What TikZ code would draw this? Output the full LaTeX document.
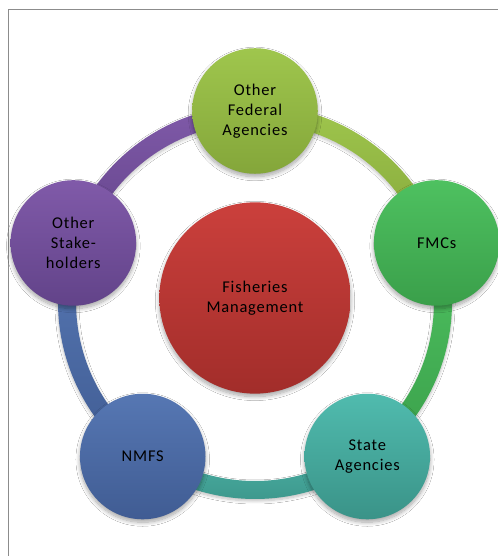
\documentclass[tikz,border=0pt]{standalone}
\usepackage{fontspec}
\setmainfont[LetterSpace=5]{Carlito}
\usetikzlibrary{calc,shadows.blur}

% palette
\definecolor{ofaTop}{HTML}{9FC64D}\definecolor{ofaBot}{HTML}{84A63A}
\definecolor{fmcTop}{HTML}{4EC160}\definecolor{fmcBot}{HTML}{3A9F4A}
\definecolor{staTop}{HTML}{50BBAE}\definecolor{staBot}{HTML}{3A9388}
\definecolor{nmfTop}{HTML}{5677B3}\definecolor{nmfBot}{HTML}{405C93}
\definecolor{stkTop}{HTML}{805AA9}\definecolor{stkBot}{HTML}{624389}
\definecolor{ctrTop}{HTML}{CB403C}\definecolor{ctrBot}{HTML}{A22D2A}

\tikzset{
  bubble/.style={circle, minimum size=126, inner sep=0pt, align=center,
    text=black, font=\fontsize{16.5}{20}\selectfont,
    blur shadow={shadow xshift=0pt, shadow yshift=-3pt, shadow blur steps=10,
      shadow blur radius=4pt, shadow opacity=35}},
  hub/.style={bubble, minimum size=192},
  link/.style={blur shadow={shadow xshift=0pt, shadow yshift=-2pt,
      shadow blur steps=8, shadow blur radius=3pt, shadow opacity=25}},
}

% annular sector of the ring between two angles
\newcommand{\ringpart}[4]{%
  \shade[link, top color=#3, bottom color=#4]
    ($(c)+(#1:197)$) arc[start angle=#1, end angle=#2, radius=197]
    -- ($(c)+(#2:179)$) arc[start angle=#2, end angle=#1, radius=179] -- cycle;}

\begin{document}
\begin{tikzpicture}[x=1bp, y=1bp]
  \useasboundingbox (0,0) rectangle (498,556);
  \fill[white] (0,0) rectangle (498,556);
  % page frame: left and top edges
  \draw[black!45, line width=1.3bp] (8.5,0) -- (8.5,546.5) -- (498,546.5);

  \coordinate (c) at (255,254);

  % connecting ring, one segment per neighbour pair
  \ringpart{90}{18}{ofaTop}{ofaBot}
  \ringpart{18}{-54}{fmcTop}{fmcBot}
  \ringpart{-54}{-126}{staTop!95!black}{staBot}
  \ringpart{-126}{-198}{nmfTop}{nmfBot}
  \ringpart{-198}{-270}{stkTop}{stkBot}

  % outer nodes
  \node[bubble, top color=ofaTop, bottom color=ofaBot] (ofa)   at ($(c)+(90:191)$)   {Other\\Federal\\Agencies};
  \node[bubble, top color=fmcTop, bottom color=fmcBot] (fmc)   at ($(c)+(18:191)$)   {FMCs};
  \node[bubble, top color=staTop, bottom color=staBot] (state) at ($(c)+(-54:191)$)  {State\\Agencies};
  \node[bubble, top color=nmfTop, bottom color=nmfBot] (nmfs)  at ($(c)+(-126:191)$) {NMFS};
  \node[bubble, top color=stkTop, bottom color=stkBot] (stake) at ($(c)+(162:191)$)  {Other\\Stake-\\holders};

  % central node
  \node[hub, top color=ctrTop, bottom color=ctrBot] (fm) at (255,258) {Fisheries\\Management};
\end{tikzpicture}
\end{document}
